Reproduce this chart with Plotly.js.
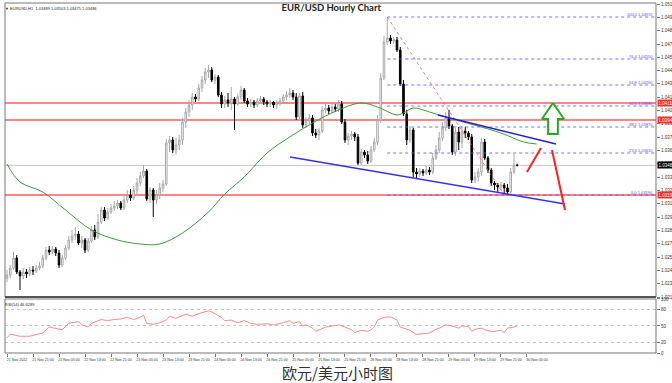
<!DOCTYPE html>
<html><head><meta charset="utf-8">
<script src="https://cdn.plot.ly/plotly-3.0.1.min.js"></script>
<style>html,body{margin:0;padding:0;background:#fff}#chart{width:672px;height:383px}</style>
</head><body><div id="chart"></div>
<script>
// ---- OHLC data (EURUSD H1) ----
const openP = [
1.0236,1.0239,1.0246,1.0256,1.0242,1.0238,1.0242,1.0240,1.0244,1.0243,
1.0246,1.0248,1.0256,1.0264,1.0262,1.0265,1.0261,1.0249,1.0256,1.0266,
1.0274,1.0278,1.0280,1.0271,1.0274,1.0264,1.0273,1.0284,1.0277,1.0292,
1.0304,1.0296,1.0302,1.0306,1.0308,1.0311,1.0306,1.0314,1.0319,1.0316,
1.0324,1.0331,1.0338,1.0343,1.0315,1.0324,1.0314,1.0319,1.0326,1.0330,
1.0371,1.0374,1.0364,1.0369,1.0374,1.0392,1.0402,1.0409,1.0417,1.0415,
1.0426,1.0434,1.0442,1.0444,1.0434,1.0437,1.0419,1.0410,1.0414,1.0411,
1.0415,1.0410,1.0417,1.0424,1.0413,1.0410,1.0412,1.0409,1.0413,1.0415,
1.0412,1.0410,1.0412,1.0409,1.0411,1.0413,1.0417,1.0419,1.0421,1.0417,
1.0397,1.0418,1.0389,1.0393,1.0396,1.0381,1.0379,1.0383,1.0404,1.0406,
1.0403,1.0407,1.0405,1.0410,1.0392,1.0374,1.0378,1.0380,1.0377,1.0351,
1.0362,1.0359,1.0353,1.0364,1.0372,1.0394,1.0436,1.0472,1.0476,1.0473,
1.0474,1.0464,1.0430,1.0400,1.0374,1.0384,1.0342,1.0340,1.0343,1.0341,
1.0344,1.0342,1.0356,1.0364,1.0376,1.0386,1.0396,1.0388,1.0362,1.0382,
1.0372,1.0383,1.0381,1.0377,1.0334,1.0337,1.0342,1.0372,1.0356,1.0344,
1.0331,1.0329,1.0327,1.0329,1.0326,1.0322,1.0342,1.03489];
const closeP = [
1.0239,1.0246,1.0256,1.0242,1.0238,1.0242,1.0240,1.0244,1.0243,1.0246,
1.0248,1.0256,1.0264,1.0262,1.0265,1.0261,1.0249,1.0256,1.0266,1.0274,
1.0278,1.0280,1.0271,1.0274,1.0264,1.0273,1.0284,1.0277,1.0292,1.0304,
1.0296,1.0302,1.0306,1.0308,1.0311,1.0306,1.0314,1.0319,1.0316,1.0324,
1.0331,1.0338,1.0343,1.0315,1.0324,1.0314,1.0319,1.0326,1.0330,1.0371,
1.0374,1.0364,1.0369,1.0374,1.0392,1.0402,1.0409,1.0417,1.0415,1.0426,
1.0434,1.0442,1.0444,1.0434,1.0437,1.0419,1.0410,1.0414,1.0411,1.0415,
1.0410,1.0417,1.0424,1.0413,1.0410,1.0412,1.0409,1.0413,1.0415,1.0412,
1.0410,1.0412,1.0409,1.0411,1.0413,1.0417,1.0419,1.0421,1.0417,1.0397,
1.0418,1.0389,1.0393,1.0396,1.0381,1.0379,1.0383,1.0404,1.0406,1.0403,
1.0407,1.0405,1.0410,1.0392,1.0374,1.0378,1.0380,1.0377,1.0351,1.0362,
1.0359,1.0353,1.0364,1.0372,1.0394,1.0436,1.0472,1.0476,1.0473,1.0474,
1.0464,1.0430,1.0400,1.0374,1.0384,1.0342,1.0340,1.0343,1.0341,1.0344,
1.0342,1.0356,1.0364,1.0376,1.0386,1.0396,1.0388,1.0362,1.0382,1.0372,
1.0383,1.0381,1.0377,1.0334,1.0337,1.0342,1.0372,1.0356,1.0344,1.0331,
1.0329,1.0327,1.0329,1.0326,1.0322,1.0342,1.0349,1.03486];
const highP = [
1.0244,1.0249,1.0262,1.0259,1.0244,1.0246,1.0245,1.0247,1.0248,1.0249,
1.0252,1.0259,1.0267,1.0268,1.0268,1.0267,1.0264,1.0259,1.0269,1.0278,
1.0284,1.0287,1.0283,1.0278,1.0276,1.0276,1.0288,1.0289,1.0300,1.0307,
1.0307,1.0306,1.0310,1.0313,1.0314,1.0313,1.0318,1.0324,1.0325,1.0328,
1.0336,1.0342,1.0349,1.0345,1.0327,1.0326,1.0324,1.0331,1.0334,1.0375,
1.0378,1.0377,1.0376,1.0379,1.0396,1.0406,1.0414,1.0421,1.0420,1.0430,
1.0438,1.0446,1.0449,1.0447,1.0440,1.0439,1.0422,1.0418,1.0421,1.0427,
1.0417,1.0420,1.0428,1.0426,1.0416,1.0415,1.0414,1.0416,1.0418,1.0417,
1.0414,1.0414,1.0413,1.0414,1.0416,1.0420,1.0423,1.0426,1.0424,1.0421,
1.0421,1.0422,1.0397,1.0400,1.0399,1.0385,1.0386,1.0408,1.0410,1.0409,
1.0411,1.0410,1.0414,1.0413,1.0395,1.0381,1.0383,1.0382,1.0380,1.0365,
1.0364,1.0363,1.0368,1.0376,1.0399,1.0441,1.0478,1.0497,1.0479,1.0477,
1.0477,1.0467,1.0434,1.0404,1.0388,1.0386,1.0346,1.0346,1.0345,1.0348,
1.0347,1.0361,1.0369,1.0382,1.0392,1.0402,1.0404,1.0390,1.0386,1.0387,
1.0388,1.0387,1.0383,1.0380,1.0342,1.0346,1.0376,1.0375,1.0358,1.0346,
1.0333,1.0331,1.0332,1.0331,1.0330,1.0346,1.0360,1.03503];
const lowP = [
1.0232,1.0236,1.0244,1.0240,1.0224,1.0235,1.0236,1.0238,1.0239,1.0241,
1.0244,1.0246,1.0254,1.0259,1.0260,1.0258,1.0246,1.0247,1.0254,1.0264,
1.0271,1.0274,1.0269,1.0266,1.0261,1.0262,1.0271,1.0274,1.0275,1.0290,
1.0293,1.0294,1.0300,1.0303,1.0305,1.0304,1.0304,1.0311,1.0313,1.0314,
1.0320,1.0328,1.0336,1.0313,1.0311,1.0297,1.0310,1.0315,1.0322,1.0328,
1.0362,1.0361,1.0359,1.0364,1.0369,1.0386,1.0397,1.0404,1.0412,1.0413,
1.0422,1.0430,1.0436,1.0432,1.0430,1.0417,1.0406,1.0406,1.0407,1.0404,
1.0384,1.0408,1.0414,1.0411,1.0407,1.0407,1.0406,1.0407,1.0410,1.0409,
1.0407,1.0407,1.0406,1.0405,1.0408,1.0410,1.0414,1.0416,1.0414,1.0394,
1.0395,1.0386,1.0386,1.0390,1.0378,1.0376,1.0374,1.0381,1.0401,1.0400,
1.0401,1.0402,1.0402,1.0390,1.0371,1.0369,1.0374,1.0373,1.0349,1.0349,
1.0356,1.0350,1.0351,1.0362,1.0369,1.0391,1.0434,1.0469,1.0470,1.0470,
1.0462,1.0428,1.0398,1.0369,1.0371,1.0337,1.0336,1.0337,1.0338,1.0339,
1.0339,1.0340,1.0354,1.0361,1.0373,1.0383,1.0385,1.0359,1.0358,1.0364,
1.0366,1.0376,1.0374,1.0331,1.0331,1.0333,1.0338,1.0354,1.0341,1.0328,
1.0324,1.0322,1.0323,1.0321,1.0319,1.0320,1.0340,1.03475];

// time axis labels (every 8 bars)
const timeTickBars = [0,8,16,24,32,40,48,56,64,72,80,88,96,104,112,120,128,136,144,152,160];
const timeTickLabels = ["21 Nov 2022","21 Nov 21:00","22 Nov 05:00","22 Nov 13:00","22 Nov 21:00","23 Nov 05:00","23 Nov 13:00","23 Nov 21:00","24 Nov 05:00","24 Nov 13:00","24 Nov 21:00","25 Nov 05:00","25 Nov 13:00","25 Nov 21:00","28 Nov 05:00","28 Nov 13:00","28 Nov 21:00","29 Nov 05:00","29 Nov 13:00","29 Nov 21:00","30 Nov 05:00"];
const priceTicks = [1.05100,1.04967,1.04834,1.04700,1.04567,1.04434,1.04301,1.04168,1.04034,1.03901,1.03768,1.03635,1.03502,1.03368,1.03235,1.03102,1.02969,1.02836,1.02702,1.02569,1.02436,1.02303,1.02170];

// moving average (read points)
const maBars = [0,4,11,18,26,34,41,47,54,62,67,73,80,87,94,102,109,114,120,122,125,130,136,152,159,163];
const maVals = [1.0350,1.0332,1.0322,1.0304,1.0284,1.0274,1.0270,1.0270,1.0281,1.0302,1.0320,1.0337,1.0361,1.0377,1.0391,1.0404,1.0411,1.0407,1.0399,1.0401,1.0406,1.0402,1.0396,1.0381,1.0372,1.0370];

// RSI(14)
const rsiBars = [0,1,4,7,11,13,17,19,22,23,25,26,29,31,33,35,37,39,41,42,43,45,47,49,50,52,55,57,59,62,63,66,67,69,71,73,75,77,80,82,85,87,88,90,91,92,94,95,98,100,102,104,106,107,109,111,112,113,114,116,118,120,121,124,126,128,130,132,133,135,137,139,140,142,143,144,146,147,149,150,152,153,154,156,157];
const rsiVals = [28,35,31,31,37,48,43,55,58,52,48,55,62,60,62,63,66,62,66,70,55,53,56,61,68,64,72,68,73,78,76,66,60,61,56,60,55,53,54,52,56,60,55,58,50,52,46,40,48,50,52,48,43,38,42,40,43,48,61,66,67,61,48,42,34,36,37,44,46,52,50,46,50,49,40,44,46,43,40,40,42,38,46,48,50];

// Fibonacci retracement
const fibPct = ["0.0","23.6","38.2","50.0","61.8","76.4","100.0"];
const fibPrices = [1.03190,1.03610,1.03870,1.04080,1.04290,1.04550,1.04970];
const fibStartBar = 117;
const fibDiagBars = [117,153];
const fibDiagPrices = [1.0497,1.0319];

// horizontal levels
const redLevels = [1.0411,1.0394,1.0319];
const redLevelLabels = ["1.04110","1.03940","1.03190"];
const lastPrice = 1.03486;

// drawn trendlines and arrows
const upperTrendBars = [132.6,168.9], upperTrendPrices = [1.0399,1.0370];
const lowerTrendBars = [87.1,171.7], lowerTrendPrices = [1.0357,1.0310];
const redUpBars = [160.0,164.3], redUpPrices = [1.0342,1.0366];
const redDownBars = [167.7,171.7], redDownPrices = [1.0364,1.0304];
const arrowBars = [168.0,171.4,169.5,169.5,166.5,166.5,164.6,168.0];
const arrowPrices = [1.0411,1.0395,1.0395,1.0380,1.0380,1.0395,1.0395,1.0411];

const xMax = 199.7;
const barIdx = openP.map((_, i) => i);

const traces = [];
traces.push({type:'candlestick', x:barIdx, open:openP, high:highP, low:lowP, close:closeP,
  increasing:{line:{color:'#a8a8a8', width:1}, fillcolor:'#ffffff'},
  decreasing:{line:{color:'#000000', width:1}, fillcolor:'#000000'},
  whiskerwidth:0, hoverinfo:'skip', showlegend:false, xaxis:'x', yaxis:'y'});
traces.push({type:'scatter', mode:'lines', x:maBars, y:maVals, line:{color:'#3c9a3c', width:1, shape:'spline', smoothing:1}, hoverinfo:'skip', xaxis:'x', yaxis:'y'});
fibPrices.forEach(p => traces.push({type:'scatter', mode:'lines', x:[fibStartBar, xMax], y:[p,p], line:{color:'rgba(90,90,255,0.85)', width:1, dash:'dot'}, hoverinfo:'skip', xaxis:'x', yaxis:'y'}));
traces.push({type:'scatter', mode:'lines', x:fibDiagBars, y:fibDiagPrices, line:{color:'rgba(255,80,80,0.8)', width:1, dash:'dot'}, hoverinfo:'skip'});
traces.push({type:'scatter', mode:'lines', x:upperTrendBars, y:upperTrendPrices, line:{color:'#2020d0', width:1.5}, hoverinfo:'skip'});
traces.push({type:'scatter', mode:'lines', x:lowerTrendBars, y:lowerTrendPrices, line:{color:'#3030ff', width:1.5}, hoverinfo:'skip'});
traces.push({type:'scatter', mode:'lines', x:redUpBars, y:redUpPrices, line:{color:'#ff2020', width:2}, hoverinfo:'skip'});
traces.push({type:'scatter', mode:'lines', x:redDownBars, y:redDownPrices, line:{color:'#ff2020', width:2}, hoverinfo:'skip'});
traces.push({type:'scatter', mode:'lines', x:arrowBars, y:arrowPrices, fill:'toself', fillcolor:'#ffffff', line:{color:'#22aa22', width:2}, hoverinfo:'skip'});
traces.push({type:'scatter', mode:'lines', x:rsiBars, y:rsiVals, line:{color:'#ff8a8a', width:1}, hoverinfo:'skip', xaxis:'x', yaxis:'y2'});

const shapes = [];
shapes.push({type:'line', xref:'paper', x0:0, x1:1, yref:'y', y0:lastPrice, y1:lastPrice, line:{color:'#c8c8c8', width:1}, layer:'below'});
redLevels.forEach(p => shapes.push({type:'line', xref:'paper', x0:0, x1:1, yref:'y', y0:p, y1:p, line:{color:'rgba(255,50,50,0.8)', width:1.6}, layer:'below'}));
shapes.push({type:'rect', xref:'paper', yref:'paper', x0:0, x1:1, y0:0.16, y1:1, line:{color:'#777', width:1}});
shapes.push({type:'line', xref:'paper', yref:'paper', x0:0, x1:1, y0:0.16, y1:0.16, line:{color:'#555', width:2}});
shapes.push({type:'rect', xref:'paper', yref:'paper', x0:0, x1:1, y0:0, y1:0.1543, line:{color:'#777', width:1}});

const annotations = [];
fibPrices.forEach((p, k) => annotations.push({xref:'paper', x:1, xanchor:'right', xshift:-1, yref:'y', y:p, yanchor:'bottom', yshift:-1.5, text:fibPct[k] + ' ' + p.toFixed(5), showarrow:false, font:{size:4, color:'#5050ff'}}));
redLevels.forEach((p, k) => annotations.push({xref:'paper', x:1, xanchor:'left', xshift:1, yref:'y', y:p, text:redLevelLabels[k], showarrow:false, bgcolor:'#ff2a2a', borderpad:0.5, font:{size:4.5, color:'#ffffff'}}));
annotations.push({xref:'paper', x:1, xanchor:'left', xshift:1, yref:'y', y:lastPrice, text:lastPrice.toFixed(5), showarrow:false, bgcolor:'#000000', borderpad:0.5, font:{size:4.5, color:'#ffffff'}});
annotations.push({xref:'paper', x:0, xanchor:'left', xshift:-2, yref:'paper', y:1, yanchor:'top', yshift:-1, text:'▼ EURUSD,H1  ' + [openP[157], highP[157], lowP[157], closeP[157]].map(v => v.toFixed(5)).join(' '), showarrow:false, font:{size:4, color:'#222'}});
annotations.push({xref:'paper', x:0, xanchor:'left', xshift:-2, yref:'paper', y:0.1543, yanchor:'top', yshift:-1, text:'RSI(14) 46.6289', showarrow:false, font:{size:4, color:'#222'}});
annotations.push({xref:'paper', x:0.510, xanchor:'center', yref:'paper', y:0, yanchor:'middle', yshift:-19, text:'欧元/美元小时图', showarrow:false, font:{size:15, color:'#333', family:'Noto Sans CJK SC'}});

const layout = {
  width:672, height:383, margin:{l:5, r:16, t:3, b:30},
  paper_bgcolor:'#ffffff', plot_bgcolor:'#ffffff', showlegend:false, hovermode:false,
  font:{family:'Liberation Sans, Arial, sans-serif', size:5, color:'#333'},
  title:{text:'<b>EUR/USD Hourly Chart</b>', x:0.493, xanchor:'center', y:0.979, yanchor:'middle', font:{size:9.5, family:'Lato, Liberation Sans, sans-serif', color:'#222'}},
  xaxis:{range:[-0.62, xMax], anchor:'y2', domain:[0,1], tickmode:'array', tickvals:timeTickBars, ticktext:timeTickLabels,
    tickfont:{size:3.6, color:'#333'}, tickangle:0, ticks:'outside', ticklen:3, tickcolor:'#777', showgrid:false, zeroline:false, showline:false,
    rangeslider:{visible:false}, ticklabelshift:10, fixedrange:true},
  yaxis:{domain:[0.16,1], range:[1.0217,1.0511], side:'right', anchor:'x', tickmode:'array', tickvals:priceTicks, tickformat:'.5f',
    tickfont:{size:4.5, color:'#333'}, ticks:'outside', ticklen:3, tickcolor:'#777', showgrid:false, zeroline:false, showline:false, fixedrange:true},
  yaxis2:{domain:[0,0.1543], range:[0,100], side:'right', anchor:'x', tickmode:'array', tickvals:[0,20,50,80,100],
    tickfont:{size:4.5, color:'#333'}, ticks:'outside', ticklen:3, tickcolor:'#777', showgrid:true, gridcolor:'#c4c4c4', griddash:'dot',
    zeroline:false, showline:false, fixedrange:true},
  shapes:shapes, annotations:annotations
};

Plotly.newPlot('chart', traces, layout, {staticPlot:true, displayModeBar:false});
</script></body></html>
